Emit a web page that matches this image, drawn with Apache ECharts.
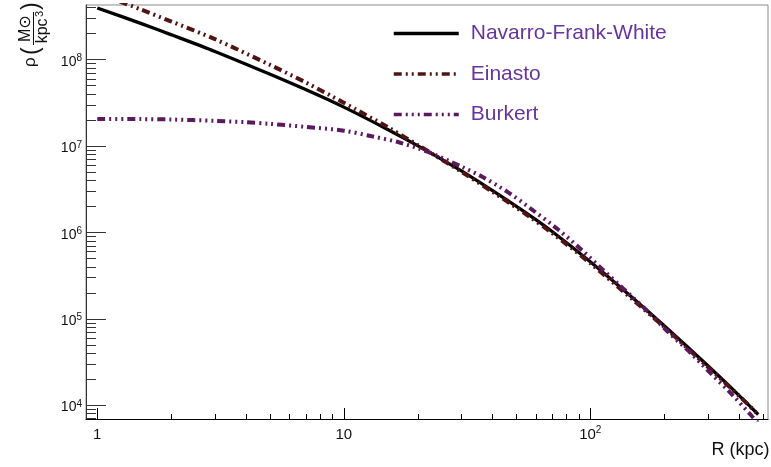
<!DOCTYPE html>
<html><head><meta charset="utf-8">
<script src="https://cdn.jsdelivr.net/npm/echarts@6/dist/echarts.min.js"></script>
<style>html,body{margin:0;padding:0;background:#fff}#c{width:771px;height:467px}</style>
</head><body><div id="c"></div>
<script>
const FONT = '"Liberation Sans", "DejaVu Sans", Arial, sans-serif';
const X_MIN = 0.9, X_MAX = 526;
const Y_MIN = 6.79e3, Y_MAX = 4.275e8;

const xLabelTicks = [1, 10, 100];
const yLabelTicks = [1e4, 1e5, 1e6, 1e7, 1e8];
const seriesNames = ['Navarro-Frank-White', 'Einasto', 'Burkert'];

const nfwR   = [1, 1.5, 2, 3, 5, 7, 10, 15, 20, 30, 40, 56, 70, 100, 150, 200, 300, 400, 480];
const nfwRho = [3.95e8, 2.62e8, 1.93e8, 1.24e8, 6.79e7, 4.48e7, 2.81e7, 1.56e7, 1.0e7, 5.13e6, 3.05e6, 1.61e6, 1.02e6, 4.56e5, 1.70e5, 8.22e4, 2.84e4, 1.30e4, 7.76e3];

const einastoR   = [1, 1.5, 2, 3, 5, 7, 10, 15, 20, 30, 40, 56, 70, 100, 150, 200, 300, 400, 480];
const einastoRho = [5.89e8, 3.80e8, 2.75e8, 1.72e8, 8.71e7, 5.43e7, 3.16e7, 1.66e7, 1.02e7, 5.01e6, 2.95e6, 1.55e6, 9.77e5, 4.37e5, 1.62e5, 7.94e4, 2.75e4, 1.29e4, 7.76e3];

const burkertR   = [1, 1.5, 2, 3, 4, 5, 7, 10, 13, 16.7, 22, 30, 36, 46.6, 57.7, 73, 90.7, 111.6, 136.5, 168.6, 206, 252, 303, 371.5, 454, 480];
const burkertRho = [2.04e7, 2.04e7, 2.02e7, 1.95e7, 1.88e7, 1.80e7, 1.66e7, 1.50e7, 1.29e7, 1.10e7, 8.51e6, 5.75e6, 4.47e6, 2.88e6, 1.85e6, 1.11e6, 6.53e5, 3.76e5, 2.21e5, 1.26e5, 7.08e4, 4.15e4, 2.44e4, 1.37e4, 7.35e3, 6.17e3];

function pairs(xs, ys) { return xs.map((x, i) => [x, ys[i]]); }

function logTicks(lo, hi) {
  const out = [];
  for (let e = -2; e <= 9; e++) {
    for (let k = 1; k <= 9; k++) {
      const v = k * Math.pow(10, e);
      if (v > lo * 1.0001 && v < hi * 0.9999) out.push([v, k === 1 ? 1 : 0]);
    }
  }
  return out;
}
const xTickData = logTicks(X_MIN, X_MAX).map(t => [t[0], Y_MIN, t[1]]);
const yTickData = logTicks(Y_MIN, Y_MAX).map(t => [X_MIN, t[0], t[1]]);

function isPow10(v) {
  const l = Math.log10(v);
  return Math.abs(l - Math.round(l)) < 1e-6 ? Math.round(l) : null;
}

const chart = echarts.init(document.getElementById('c'), null, {renderer: 'canvas'});
chart.setOption({
  animation: false,
  backgroundColor: '#fff',
  grid: {left: 86, right: 0, top: 5, bottom: 47.5, show: true, borderColor: '#8a8a8a', borderWidth: 1, containLabel: false},
  xAxis: {
    type: 'log', logBase: 10, min: X_MIN, max: X_MAX,
    axisLine: {show: true, lineStyle: {color: '#000', width: 1}},
    axisTick: {show: false}, minorTick: {show: false},
    splitLine: {show: false}, minorSplitLine: {show: false},
    axisLabel: {
      interval: 0, margin: 5.5, color: '#111', fontFamily: FONT,
      formatter: v => {
        const e = isPow10(v);
        if (e === null || xLabelTicks.indexOf(Math.pow(10, e)) < 0) return '';
        if (e === 0) return '{b|1}';
        if (e === 1) return '{b|10}';
        return '{b|10}{s|' + e + '}';
      },
      rich: {
        b: {fontSize: 15, lineHeight: 20, fontFamily: FONT, color: '#111'},
        s: {fontSize: 10, lineHeight: 10, padding: [0, 0, 10, 0], fontFamily: FONT, color: '#111'}
      }
    }
  },
  yAxis: {
    type: 'log', logBase: 10, min: Y_MIN, max: Y_MAX,
    axisLine: {show: true, lineStyle: {color: '#333', width: 1}},
    axisTick: {show: false}, minorTick: {show: false},
    splitLine: {show: false}, minorSplitLine: {show: false},
    axisLabel: {
      interval: 0, margin: 4, color: '#111', fontFamily: FONT, padding: [5, 0, 0, 0],
      formatter: v => {
        const e = isPow10(v);
        if (e === null || yLabelTicks.indexOf(Math.pow(10, e)) < 0) return '';
        return '{b|10}{s|' + e + '}';
      },
      rich: {
        b: {fontSize: 14, lineHeight: 20, fontFamily: FONT, color: '#111'},
        s: {fontSize: 10, lineHeight: 10, padding: [1.5, 0, 8.5, 0], fontFamily: FONT, color: '#111'}
      }
    }
  },
  legend: {
    orient: 'vertical', left: 387, top: 17.9,
    itemWidth: 65, itemHeight: 22, itemGap: 19.5,
    selectedMode: false,
    data: seriesNames,
    textStyle: {color: '#65359a', fontSize: 21, fontFamily: FONT, padding: [0, 0, 0, 7]},
    lineStyle: {width: 3.5},
    itemStyle: {opacity: 0}
  },
  series: [
    {
      type: 'line', name: seriesNames[0], data: pairs(nfwR, nfwRho),
      symbol: 'none', showSymbol: false, smooth: 0.3, clip: true, z: 3,
      lineStyle: {color: '#000', width: 3.3, type: 'solid'},
      itemStyle: {color: '#000'}
    },
    {
      type: 'line', name: seriesNames[1], data: pairs(einastoR, einastoRho),
      symbol: 'none', showSymbol: false, smooth: 0.3, clip: true, z: 4,
      lineStyle: {color: '#511414', width: 4, type: [8, 4, 2, 4, 2, 4], cap: 'butt'},
      itemStyle: {color: '#511414'}
    },
    {
      type: 'line', name: seriesNames[2], data: pairs(burkertR, burkertRho),
      symbol: 'none', showSymbol: false, smooth: 0.3, clip: true, z: 5,
      lineStyle: {color: '#5b1a5e', width: 4, type: [8, 4, 2, 4, 2, 4, 2, 4], cap: 'butt'},
      itemStyle: {color: '#5b1a5e'}
    },
    {
      type: 'custom', name: 'xticks', silent: true, z: 2,
      dimensions: ['x', 'y', 'major'], encode: {x: 0, y: 1},
      data: xTickData,
      renderItem: (params, api) => {
        const p = api.coord([api.value(0), Y_MIN]);
        const x = Math.round(p[0]) + 0.5, y = Math.round(p[1]);
        const len = api.value(2) ? 12 : 6;
        return {type: 'line', shape: {x1: x, y1: y, x2: x, y2: y - len}, style: {stroke: '#000', lineWidth: 1}};
      }
    },
    {
      type: 'custom', name: 'yticks', silent: true, z: 2,
      dimensions: ['x', 'y', 'major'], encode: {x: 0, y: 1},
      data: yTickData,
      renderItem: (params, api) => {
        const p = api.coord([X_MIN, api.value(1)]);
        const x = Math.round(p[0]), y = Math.round(p[1]) + 0.5;
        const len = api.value(2) ? 20 : 10;
        return {type: 'line', shape: {x1: x, y1: y, x2: x + len, y2: y}, style: {stroke: '#333', lineWidth: 1}};
      }
    }
  ],
  graphic: [
    {
      type: 'text', right: 1.5, top: 441,
      style: {text: 'R (kpc)', font: '18px ' + FONT, fill: '#111'}
    },
    {
      type: 'group', x: 33, y: 68, rotation: Math.PI / 2,
      children: [
        {type: 'text', x: 1, y: -2.6, style: {text: 'ρ', font: '17px ' + FONT, fill: '#111', align: 'left', verticalAlign: 'middle'}},
        {type: 'text', x: 13, y: -1.2, style: {text: '(', font: '23px ' + FONT, fill: '#111', align: 'left', verticalAlign: 'middle'}},
        {type: 'text', x: 26, y: -7.8, style: {text: 'M⊙', font: '16px ' + FONT, fill: '#111', align: 'left', verticalAlign: 'middle'}},
        {type: 'line', shape: {x1: 23, y1: 0.5, x2: 56, y2: 0.5}, style: {stroke: '#111', lineWidth: 1}},
        {type: 'text', x: 24.7, y: 10, style: {text: 'kpc', font: '16px ' + FONT, fill: '#111', align: 'left', verticalAlign: 'middle'}},
        {type: 'text', x: 51, y: 6.5, style: {text: '3', font: '11px ' + FONT, fill: '#111', align: 'left', verticalAlign: 'middle'}},
        {type: 'text', x: 58, y: -1.2, style: {text: ')', font: '23px ' + FONT, fill: '#111', align: 'left', verticalAlign: 'middle'}}
      ]
    }
  ]
});
</script>
</body></html>
